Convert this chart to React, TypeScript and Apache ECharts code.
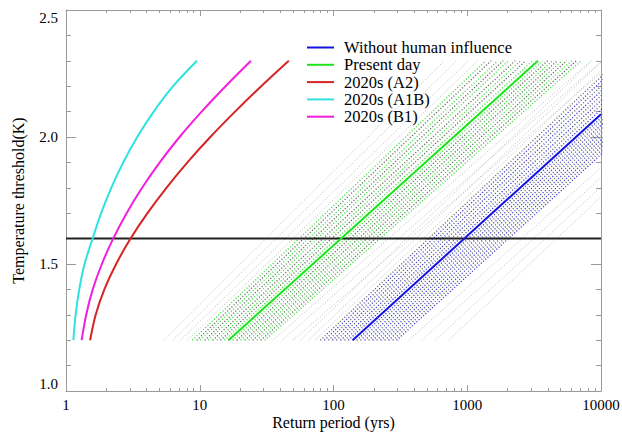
import React, { useEffect, useRef } from "react";
import * as echarts from "echarts";

// ---------- data ----------
const thresholdLevels = [1.2, 1.3, 1.4, 1.5, 1.6, 1.7, 1.8, 1.9, 2.0, 2.1, 2.2, 2.3];
const a1bPeriods = [1.135, 1.18, 1.256, 1.377, 1.58, 1.83, 2.18, 2.68, 3.41, 4.53, 6.32, 9.53];
const b1Periods = [1.309, 1.416, 1.585, 1.854, 2.254, 2.838, 3.707, 5.023, 7.063, 10.33, 15.6, 24.15];
const a2Periods = [1.514, 1.667, 1.936, 2.371, 3.041, 4.064, 5.636, 8.091, 11.99, 18.37, 28.84, 46.34];

const presentDayPeriods = [16.4, 3380];
const presentDayLevels = [1.2, 2.3];
const naturalPeriods = [139, 10000];
const naturalLevels = [1.2, 2.09];

const ensembleLevels = [1.2, 2.3];
const presentEnsStart = [5.4, 6.3, 7.2, 8.1, 8.8, 9.5, 10.1, 10.9, 11.6, 12.5, 13.4, 14.3, 15.3, 16.4, 17.6, 18.9, 20.2, 21.7, 23.2, 24.9, 26.7, 28.6, 30.6, 35.2, 41.3, 49.7];
const presentEnsEnd = [673, 828, 1019, 1197, 1374, 1507, 1690, 1854, 2032, 2280, 2500, 2742, 3076, 3373, 3664, 3981, 4325, 4699, 5105, 5546, 6026, 6546, 7112, 8395, 10186, 12706];
const naturalEnsStart = [56.5, 64.9, 72.8, 79.8, 85.5, 91.6, 98.2, 105, 113, 121, 129, 139, 149, 159, 171, 183, 196, 210, 225, 241, 258, 277, 296, 365, 459, 578, 728];
const naturalEnsEnd = [8568, 10255, 11909, 13424, 14685, 16065, 17574, 19225, 21032, 23008, 25170, 27535, 29504, 31614, 33875, 36298, 38894, 41676, 44656, 47849, 51272, 54939, 58867, 77600, 91200, 104700, 120200];

const thresholdValue = 1.6;
const xRange = [1, 10000];
const yRange = [1.0, 2.5];
const xMajorTicks = [1, 10, 100, 1000, 10000];
const xMinorTicks = [2, 3, 4, 5, 6, 7, 8, 9, 20, 30, 40, 50, 60, 70, 80, 90, 200, 300, 400, 500, 600, 700, 800, 900, 2000, 3000, 4000, 5000, 6000, 7000, 8000, 9000];

const names = {
  natural: "Without human influence",
  present: "Present day",
  a2: "2020s (A2)",
  a1b: "2020s (A1B)",
  b1: "2020s (B1)",
};

const FONT = "Liberation Serif";
const AXIS_COLOR = "#9a9a9a";

function pairs(xs: number[], ys: number[]) {
  return xs.map((x, i) => [x, ys[i]]);
}

function buildEnsemble(
  starts: number[],
  ends: number[],
  inner: string,
  outerLeft: number,
  outerRight: number
) {
  const n = starts.length;
  return starts.map((s, i) => {
    const outer = i < outerLeft || i >= n - outerRight;
    const color = outer ? "#a8a8a8" : i % 2 === 0 ? inner : "#606060";
    return {
      type: "line",
      silent: true,
      symbol: "none",
      clip: true,
      z: 1,
      data: [
        [s, ensembleLevels[0]],
        [ends[i], ensembleLevels[1]],
      ],
      lineStyle: { color, width: outer ? 1 : 1.4, type: [1, 2], opacity: outer ? 0.8 : 1 },
    };
  });
}

function xAxisBase(position: "top" | "bottom") {
  return {
    type: "log",
    logBase: 10,
    min: xRange[0],
    max: xRange[1],
    position,
    splitLine: { show: false },
    axisLine: { show: true, lineStyle: { color: AXIS_COLOR, width: 1 } },
  };
}

export default function App() {
  const ref = useRef<HTMLDivElement>(null);

  useEffect(() => {
    if (!ref.current) return;
    const chart = echarts.init(ref.current, undefined, { renderer: "svg" });

    const series: any[] = [
      ...buildEnsemble(presentEnsStart, presentEnsEnd, "#36dc36", 4, 3),
      ...buildEnsemble(naturalEnsStart, naturalEnsEnd, "#3030d4", 3, 4),
      {
        name: "threshold",
        type: "line",
        symbol: "none",
        silent: true,
        z: 3,
        data: [
          [xRange[0], thresholdValue],
          [xRange[1], thresholdValue],
        ],
        lineStyle: { color: "#222", width: 2 },
      },
      {
        name: names.natural,
        type: "line",
        symbol: "none",
        z: 4,
        data: pairs(naturalPeriods, naturalLevels),
        lineStyle: { color: "#1414dc", width: 2 },
        itemStyle: { color: "#1414dc" },
      },
      {
        name: names.present,
        type: "line",
        symbol: "none",
        z: 4,
        data: pairs(presentDayPeriods, presentDayLevels),
        lineStyle: { color: "#1ee41e", width: 2 },
        itemStyle: { color: "#1ee41e" },
      },
      {
        name: names.a2,
        type: "line",
        symbol: "none",
        smooth: 0.3,
        z: 4,
        data: pairs(a2Periods, thresholdLevels),
        lineStyle: { color: "#d42424", width: 2 },
        itemStyle: { color: "#d42424" },
      },
      {
        name: names.a1b,
        type: "line",
        symbol: "none",
        smooth: 0.3,
        z: 4,
        data: pairs(a1bPeriods, thresholdLevels),
        lineStyle: { color: "#2ee2e2", width: 2 },
        itemStyle: { color: "#2ee2e2" },
      },
      {
        name: names.b1,
        type: "line",
        symbol: "none",
        smooth: 0.3,
        z: 4,
        data: pairs(b1Periods, thresholdLevels),
        lineStyle: { color: "#f21edc", width: 2 },
        itemStyle: { color: "#f21edc" },
      },
    ];

    chart.setOption({
      animation: false,
      backgroundColor: "#fff",
      textStyle: { fontFamily: FONT },
      grid: { left: 66, right: 21, top: 10, bottom: 42, containLabel: false, outerBoundsMode: "none" },
      legend: {
        data: [names.natural, names.present, names.a2, names.a1b, names.b1],
        orient: "vertical",
        left: 302,
        top: 34,
        icon: "rect",
        itemWidth: 27,
        itemHeight: 2,
        itemGap: 0.3,
        selectedMode: false,
        textStyle: { fontFamily: FONT, fontSize: 16.5, color: "#000", padding: [0, 0, 0, 5] },
      },
      xAxis: [
        {
          ...xAxisBase("bottom"),
          name: "Return period (yrs)",
          nameLocation: "middle",
          nameGap: 23.5,
          nameMoveOverlap: false,
          nameTextStyle: { fontFamily: FONT, fontSize: 16, color: "#000" },
          axisTick: { show: true, inside: true, length: 6, customValues: xMajorTicks, lineStyle: { color: AXIS_COLOR } },
          axisLabel: {
            show: true,
            customValues: xMajorTicks,
            formatter: (v: number) => String(Math.round(v)),
            fontFamily: FONT,
            fontSize: 15,
            color: "#000",
            margin: 6.5,
          },
        },
        {
          ...xAxisBase("bottom"),
          axisLine: { show: false },
          axisTick: { show: true, inside: true, length: 3, customValues: xMinorTicks, lineStyle: { color: AXIS_COLOR } },
          axisLabel: { show: false },
        },
        {
          ...xAxisBase("top"),
          axisTick: { show: true, inside: true, length: 6, customValues: xMajorTicks, lineStyle: { color: AXIS_COLOR } },
          axisLabel: { show: false },
        },
        {
          ...xAxisBase("top"),
          axisLine: { show: false },
          axisTick: { show: true, inside: true, length: 3, customValues: xMinorTicks, lineStyle: { color: AXIS_COLOR } },
          axisLabel: { show: false },
        },
      ],
      yAxis: [
        {
          type: "value",
          min: yRange[0],
          max: yRange[1],
          interval: 0.5,
          position: "left",
          splitLine: { show: false },
          axisLine: { show: true, lineStyle: { color: AXIS_COLOR } },
          axisTick: { show: true, inside: true, length: 10, lineStyle: { color: AXIS_COLOR } },
          minorTick: { show: true, splitNumber: 5, length: 5, lineStyle: { color: AXIS_COLOR } },
          axisLabel: {
            formatter: (v: number) => v.toFixed(1),
            fontFamily: FONT,
            fontSize: 15,
            color: "#000",
            margin: 8,
            verticalAlignMinLabel: "bottom",
            verticalAlignMaxLabel: "top",
          },
          name: "Temperature threshold(K)",
          nameLocation: "middle",
          nameGap: 40,
          nameMoveOverlap: false,
          nameTextStyle: { fontFamily: FONT, fontSize: 16, color: "#000" },
        },
        {
          type: "value",
          min: yRange[0],
          max: yRange[1],
          interval: 0.5,
          position: "right",
          splitLine: { show: false },
          axisLine: { show: true, lineStyle: { color: AXIS_COLOR } },
          axisTick: { show: true, inside: true, length: 10, lineStyle: { color: AXIS_COLOR } },
          minorTick: { show: true, splitNumber: 5, length: 5, lineStyle: { color: AXIS_COLOR } },
          axisLabel: { show: false },
        },
      ],
      series,
    });

    return () => chart.dispose();
  }, []);

  return (
    <div
      ref={ref}
      style={{ position: "fixed", left: 0, top: 0, width: 622, height: 433, background: "#fff" }}
    />
  );
}
